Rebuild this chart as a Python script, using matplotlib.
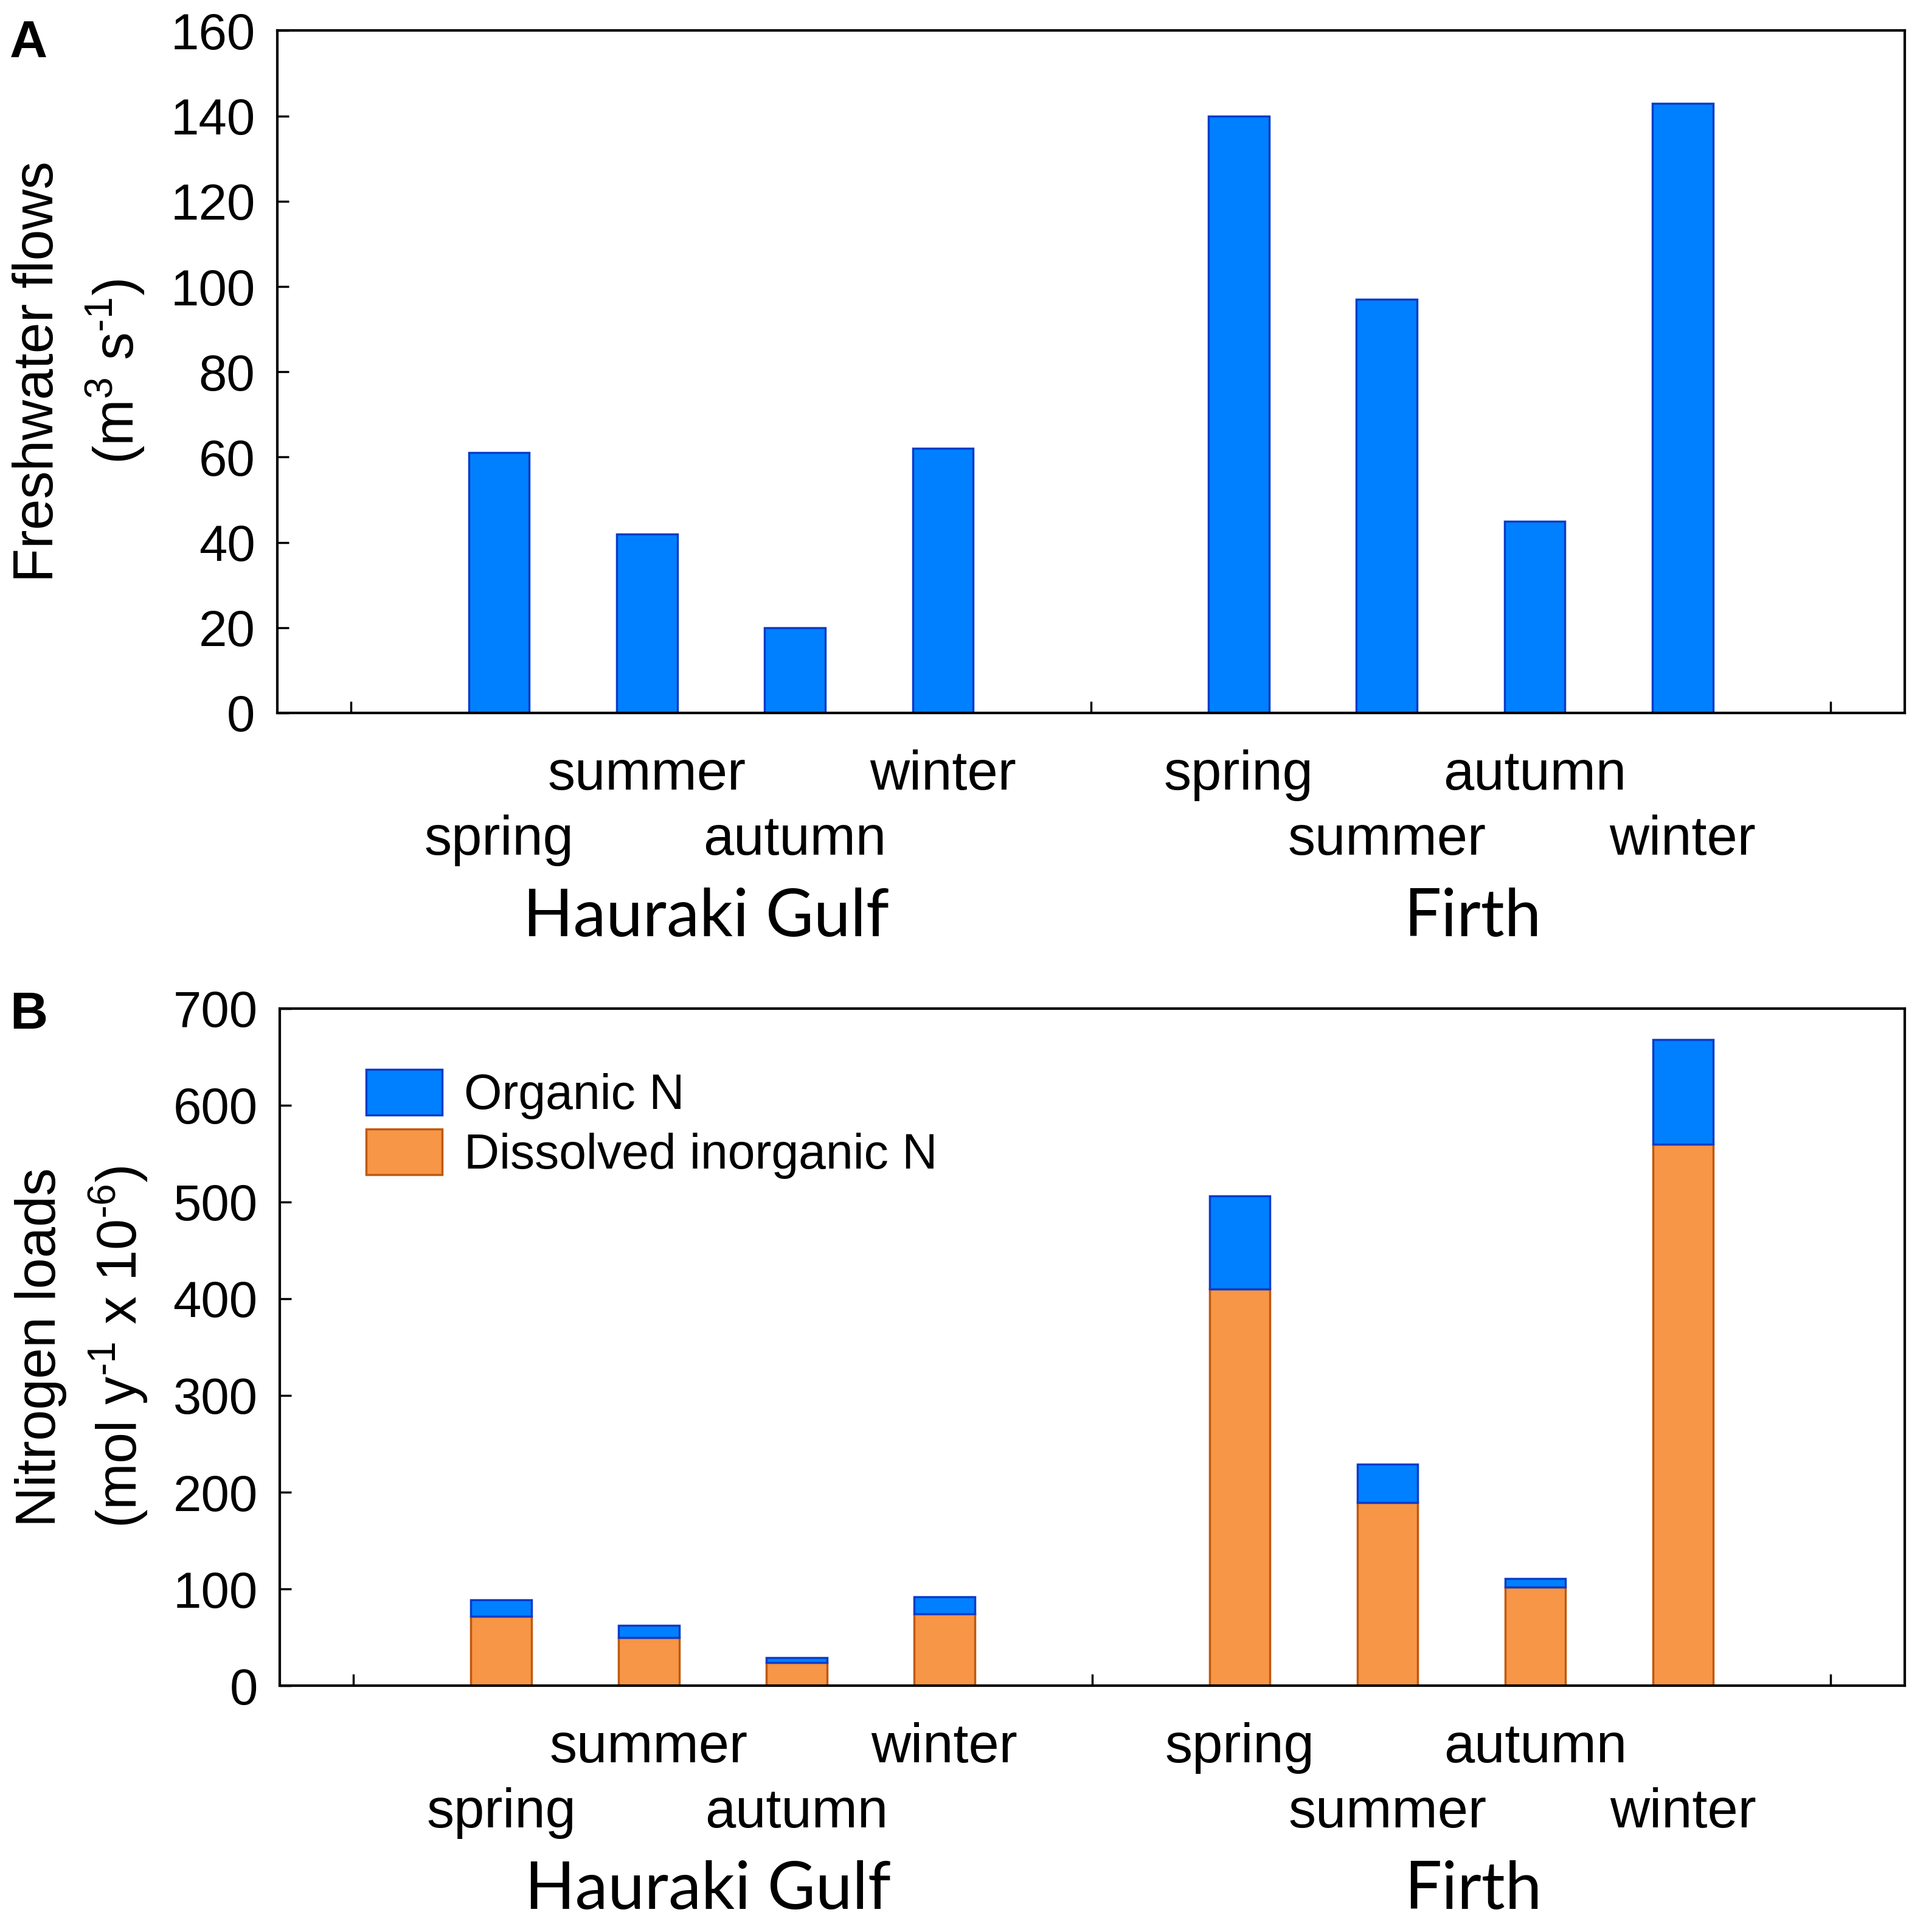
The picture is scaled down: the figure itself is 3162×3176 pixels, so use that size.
import numpy as np
import matplotlib
matplotlib.use("Agg")
import matplotlib.pyplot as plt
from matplotlib.patches import Patch

plt.rcParams["font.family"] = ["Liberation Sans", "DejaVu Sans"]
plt.rcParams["mathtext.fontset"] = "custom"
plt.rcParams["mathtext.rm"] = "Liberation Sans"
plt.rcParams["mathtext.it"] = "Liberation Sans:italic"

# data
regions = ["Hauraki Gulf", "Firth"]
seasons = ["spring", "summer", "autumn", "winter"]
flow_hg = [61, 42, 20, 62]
flow_firth = [140, 97, 45, 143]
din_hg = [72, 50, 24, 74]
org_hg = [17, 12, 5, 18]
din_firth = [410, 189, 102, 560]
org_firth = [96, 40, 9, 108]
flow_ticks = [0, 20, 40, 60, 80, 100, 120, 140, 160]
load_ticks = [0, 100, 200, 300, 400, 500, 600, 700]

blue, blue_edge = "#0080FF", "#0A3CC8"
orange, orange_edge = "#F79646", "#C0580E"

pos_hg = np.arange(1, 5)
pos_firth = np.arange(6, 10)
xpos = np.concatenate([pos_hg, pos_firth])
# which row each season label sits in (0 = upper, 1 = lower)
rows_hg = [1, 0, 1, 0]
rows_firth = [0, 1, 0, 1]

fig = plt.figure(figsize=(31.62, 31.76), dpi=100)
axA = fig.add_axes([0.1441, 0.6310, 0.8463, 0.3531])
axB = fig.add_axes([0.1454, 0.1275, 0.8450, 0.3505])

w = 0.41
axA.bar(xpos, flow_hg + flow_firth, width=w, color=blue, edgecolor=blue_edge, linewidth=2.5, zorder=2)

din = din_hg + din_firth
org = org_hg + org_firth
axB.bar(xpos, din, width=w, color=orange, edgecolor=orange_edge, linewidth=2.5, zorder=2)
axB.bar(xpos, org, bottom=din, width=w, color=blue, edgecolor=blue_edge, linewidth=2.5, zorder=2)


def style(ax, yticks, ylabel):
    ax.set_xlim(-0.5, 10.5)
    ax.set_ylim(yticks[0], yticks[-1])
    ax.set_xticks(np.arange(0, 11))
    ax.set_xticklabels([])
    ax.set_yticks(yticks)
    ax.tick_params(axis="both", direction="in", length=14, width=2.5, labelsize=60, pad=26)
    ax.tick_params(top=False, right=False)
    for s in ax.spines.values():
        s.set_linewidth(3)
    ax.set_ylabel(ylabel, fontsize=66, linespacing=1.4, labelpad=28)
    for p, s, r in zip(pos_hg, seasons, rows_hg):
        ax.annotate(s, xy=(p, 0), xycoords=("data", "axes fraction"), xytext=(0, -74 - 77 * r),
                    textcoords="offset points", ha="center", va="center", fontsize=65)
    for p, s, r in zip(pos_firth, seasons, rows_firth):
        ax.annotate(s, xy=(p, 0), xycoords=("data", "axes fraction"), xytext=(0, -74 - 77 * r),
                    textcoords="offset points", ha="center", va="center", fontsize=65)
    for c, name in zip([2.4, 7.58], regions):
        ax.annotate(name, xy=(c, 0), xycoords=("data", "axes fraction"), xytext=(0, -242),
                    textcoords="offset points", ha="center", va="center", fontsize=78,
                    family=["Lato", "DejaVu Sans"])


style(axA, flow_ticks, "Freshwater flows\n(m$^{3}$ s$^{\\text{-}1}$)")
style(axB, load_ticks, "Nitrogen loads\n(mol y$^{\\text{-}1}$ x 10$^{\\text{-}6}$)")

handles = [Patch(facecolor=blue, edgecolor=blue_edge, linewidth=2.5, label="Organic N"),
           Patch(facecolor=orange, edgecolor=orange_edge, linewidth=2.5, label="Dissolved inorganic N")]
axB.legend(handles=handles, loc="upper left", bbox_to_anchor=(0.026, 0.975), frameon=False,
           fontsize=58, handlelength=1.55, handleheight=1.05, handletextpad=0.45, labelspacing=0.2)

fig.text(0.005, 0.990, "A", fontsize=62, fontweight="bold", va="top", ha="left")
fig.text(0.005, 0.487, "B", fontsize=62, fontweight="bold", va="top", ha="left")

fig.savefig("out.png", dpi=100)
